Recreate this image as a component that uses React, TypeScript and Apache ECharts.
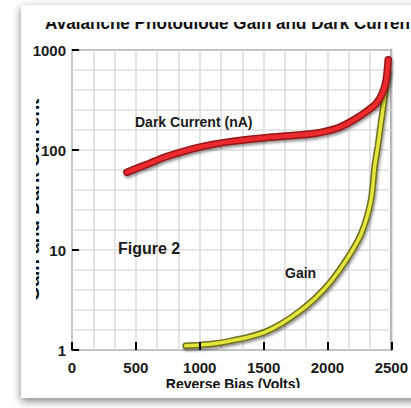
import React, { useEffect, useRef } from "react";
import * as echarts from "echarts";

// Reverse bias (V) and dark current (nA)
const darkV = [430, 600, 740, 1000, 1250, 1520, 1770, 1900, 2000, 2100, 2200, 2300, 2380, 2430, 2460, 2476];
const darkI = [60, 73, 86, 107, 122, 133, 141, 146, 155, 170, 198, 240, 290, 370, 500, 800];
// Reverse bias (V) and gain
const gainV = [890, 1000, 1125, 1250, 1385, 1515, 1645, 1775, 1905, 2030, 2160, 2265, 2340, 2370, 2395, 2420, 2445, 2462, 2472];
const gainG = [1.1, 1.12, 1.16, 1.24, 1.35, 1.52, 1.85, 2.4, 3.3, 4.9, 8.4, 14.6, 31, 69, 110, 189, 325, 500, 620];

const xMin = 0;
const xMax = 2500;
const xStep = 500;
const yTicks = [1, 10, 100, 1000];

const titleText = "Avalanche Photodiode Gain and Dark Current";
const yName = "Gain and Dark Current";
const xName = "Reverse Bias (Volts)";
const darkLabel = "Dark Current (nA)";
const gainLabel = "Gain";
const figLabel = "Figure 2";

const FONT = "'Liberation Sans', Arial, Helvetica, sans-serif";

export default function App() {
  const ref = useRef<HTMLDivElement>(null);
  useEffect(() => {
    if (!ref.current) return;
    const chart = echarts.init(ref.current, null, { renderer: "svg" });
    const darkData = darkV.map((v, i) => [v, darkI[i]]);
    const gainData = gainV.map((v, i) => [v, gainG[i]]);
    const shadow = {
      shadowColor: "rgba(0,0,0,0.45)",
      shadowBlur: 3,
      shadowOffsetX: 1,
      shadowOffsetY: 2,
    };
    const lbl = { fontFamily: FONT, fontWeight: "bold", fontSize: 15, color: "#1a1a1a" };
    chart.setOption({
      animation: false,
      backgroundColor: "#ffffff",
      grid: {
        left: 72,
        top: 50,
        right: 18,
        bottom: 58,
        show: true,
        borderColor: "#444",
        borderWidth: 1.5,
        backgroundColor: "transparent",
      },
      xAxis: [
        {
          type: "value",
          min: xMin,
          max: xMax,
          interval: xStep,
          axisLine: { show: true, onZero: false, lineStyle: { color: "#000", width: 3, ...shadow } },
          axisTick: { show: true, inside: true, length: 8, lineStyle: { color: "#000", width: 2 } },
          axisLabel: { ...lbl, margin: 10, formatter: (v: number) => String(v) },
          splitLine: { show: false },
          z: 5,
        },
        {
          type: "value",
          min: xMin,
          max: xMax,
          interval: (xMax - xMin) / 15,
          axisLine: { show: false },
          axisTick: { show: false },
          axisLabel: { show: false },
          splitLine: { show: true, lineStyle: { color: "#dedede", width: 1.6 } },
        },
      ],
      yAxis: [
        {
          type: "log",
          logBase: 10,
          min: yTicks[0],
          max: yTicks[yTicks.length - 1],
          axisLine: { show: true, onZero: false, lineStyle: { color: "#000", width: 3, ...shadow } },
          axisTick: { show: true, inside: true, length: 7, lineStyle: { color: "#000", width: 2 } },
          axisLabel: { ...lbl, margin: 6, formatter: (v: number) => String(Math.round(v)) },
          splitLine: { show: false },
          minorTick: { show: false },
          z: 5,
        },
        {
          type: "value",
          min: 0,
          max: 3,
          interval: 0.2,
          axisLine: { show: false },
          axisTick: { show: false },
          axisLabel: { show: false },
          splitLine: { show: true, lineStyle: { color: "#dedede", width: 1.6 } },
        },
      ],
      series: [
        {
          type: "line",
          data: gainData,
          smooth: 0.3,
          symbol: "none",
          z: 3,
          lineStyle: { color: "#6e6e1c", width: 6.5, cap: "round", ...shadow },
        },
        {
          type: "line",
          data: gainData,
          smooth: 0.3,
          symbol: "none",
          z: 4,
          lineStyle: { color: "#e4e63e", width: 3.5, cap: "round" },
        },
        {
          type: "line",
          data: darkData,
          smooth: 0.3,
          symbol: "none",
          z: 5,
          lineStyle: { color: "#951515", width: 7.5, cap: "round", ...shadow },
        },
        {
          type: "line",
          data: darkData,
          smooth: 0.3,
          symbol: "none",
          z: 6,
          lineStyle: { color: "#ea2a2e", width: 4.5, cap: "round" },
        },
      ],
      graphic: [
        {
          type: "rect",
          z: -10,
          shape: { x: 21, y: 5, width: 420, height: 393 },
          style: { fill: "#ffffff", shadowBlur: 8, shadowOffsetY: 3, shadowColor: "rgba(0,0,0,0.5)" },
        },
        {
          type: "text",
          z: 10,
          x: 45,
          y: 31.5,
          scaleX: 0.95,
          style: { text: titleText, font: `bold 18px ${FONT}`, fill: "#111", textVerticalAlign: "bottom", textAlign: "left" },
        },
        { type: "rect", z: 11, shape: { x: 21, y: 5, width: 420, height: 17 }, style: { fill: "#ffffff" } },
        {
          type: "text",
          z: 10,
          x: 42,
          y: 200,
          rotation: Math.PI / 2,
          style: { text: yName, font: `bold 19px ${FONT}`, fill: "#111", textAlign: "center", textVerticalAlign: "bottom" },
        },
        { type: "rect", z: 11, shape: { x: 21, y: 88, width: 15, height: 224 }, style: { fill: "#ffffff" } },
        {
          type: "text",
          z: 10,
          x: 233,
          y: 377,
          style: { text: xName, font: `bold 14px ${FONT}`, fill: "#111", textAlign: "center", textVerticalAlign: "top" },
        },
        { type: "rect", z: 11, shape: { x: 21, y: 388, width: 420, height: 10 }, style: { fill: "#ffffff" } },
        {
          type: "text",
          z: 10,
          x: 135,
          y: 122,
          style: { text: darkLabel, font: `bold 14px ${FONT}`, fill: "#1a1a1a", textAlign: "left", textVerticalAlign: "middle" },
        },
        {
          type: "text",
          z: 10,
          x: 118,
          y: 248,
          style: { text: figLabel, font: `bold 16px ${FONT}`, fill: "#1a1a1a", textAlign: "left", textVerticalAlign: "middle" },
        },
        {
          type: "text",
          z: 10,
          x: 285,
          y: 273,
          style: { text: gainLabel, font: `bold 14px ${FONT}`, fill: "#1a1a1a", textAlign: "left", textVerticalAlign: "middle" },
        },
      ],
    });
    return () => chart.dispose();
  }, []);
  return (
    <div
      ref={ref}
      style={{ position: "fixed", left: 0, top: 0, width: 411, height: 408 }}
    />
  );
}
